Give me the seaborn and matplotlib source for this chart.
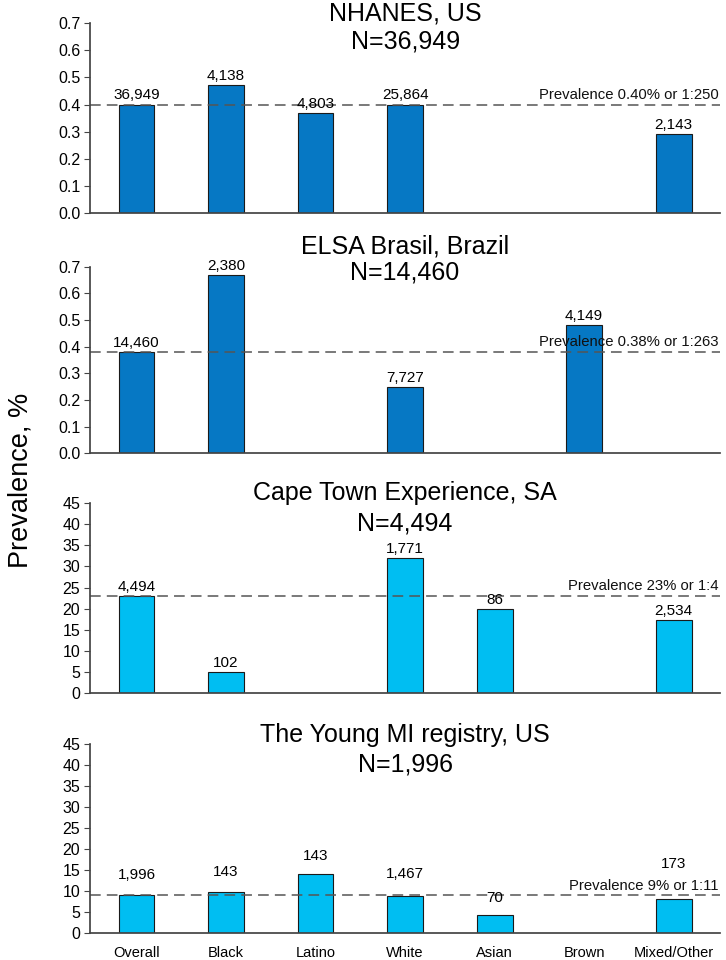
import matplotlib
matplotlib.use("Agg")
import matplotlib.pyplot as plt
import seaborn as sns
import pandas as pd
import numpy as np

# Categories shared by all panels
groups = ["Overall", "Black", "Latino", "White", "Asian", "Brown", "Mixed/Other"]

# NHANES, US
nhanes_prev = [0.40, 0.47, 0.37, 0.40, np.nan, np.nan, 0.29]
nhanes_n = ["36,949", "4,138", "4,803", "25,864", "", "", "2,143"]

# ELSA Brasil, Brazil
elsa_prev = [0.38, 0.67, np.nan, 0.25, np.nan, 0.48, np.nan]
elsa_n = ["14,460", "2,380", "", "7,727", "", "4,149", ""]

# Cape Town Experience, SA
cape_prev = [23, 5, np.nan, 32, 19.8, np.nan, 17.2]
cape_n = ["4,494", "102", "", "1,771", "86", "", "2,534"]

# The Young MI registry, US
young_prev = [9, 9.8, 14, 8.9, 4.3, np.nan, 8.1]
young_n = ["1,996", "143", "143", "1,467", "70", "", "173"]

panel_names = ["NHANES, US", "ELSA Brasil, Brazil",
               "Cape Town Experience, SA", "The Young MI registry, US"]
panel_totals = ["N=36,949", "N=14,460", "N=4,494", "N=1,996"]
overall_lines = [0.40, 0.38, 23, 9]
line_texts = ["Prevalence 0.40% or 1:250", "Prevalence 0.38% or 1:263",
              "Prevalence 23% or 1:4", "Prevalence 9% or 1:11"]

sns.set_theme(style="white")
plt.rcParams['font.family'] = ['Liberation Sans', 'DejaVu Sans']
plt.rcParams['text.color'] = 'black'
plt.rcParams['xtick.color'] = 'black'
plt.rcParams['ytick.color'] = 'black'

dark_blue = "#0678C4"
light_blue = "#00BEF2"

panels = [
    (nhanes_prev, nhanes_n, dark_blue, (0, 0.7), np.arange(0, 0.71, 0.1), "{:.1f}"),
    (elsa_prev, elsa_n, dark_blue, (0, 0.7), np.arange(0, 0.71, 0.1), "{:.1f}"),
    (cape_prev, cape_n, light_blue, (0, 45), np.arange(0, 46, 5), "{:.0f}"),
    (young_prev, young_n, light_blue, (0, 45), np.arange(0, 46, 5), "{:.0f}"),
]

# axes boxes in figure fraction: left, bottom, width, height
boxes = [
    [0.124, 0.778, 0.868, 0.198],
    [0.124, 0.528, 0.868, 0.194],
    [0.124, 0.278, 0.868, 0.198],
    [0.124, 0.028, 0.868, 0.197],
]
# title line offsets from the axes top, in points (line 1, line 2)
title_offsets = [(7.2, -13.0), (15.0, -4.3), (7.2, -14.4), (6.5, -15.0)]
# extra lift (data units) for the count labels in the last panel
young_lift = [4.9, 4.7, 4.4, 5.1, 4.0, 0, 8.3]

fig = plt.figure(figsize=(7.26, 9.6), dpi=100)

for i, (prev, counts, color, ylim, ticks, fmt) in enumerate(panels):
    ax = fig.add_axes(boxes[i])
    df = pd.DataFrame({"group": groups, "prev": prev, "n": counts})
    sns.barplot(data=df, x="group", y="prev", order=groups, color=color,
                saturation=1, width=0.4, edgecolor="#1a1a1a", linewidth=0.8,
                ax=ax)
    ax.set_ylim(*ylim)
    ax.set_xlim(-0.52, 6.52)
    ax.set_yticks(ticks)
    ax.set_yticklabels([fmt.format(t) for t in ticks], fontsize=11.5)
    ax.set_xlabel("")
    ax.set_ylabel("")
    sns.despine(ax=ax)
    ax.spines["left"].set_color("#444444")
    ax.spines["bottom"].set_color("#444444")
    ax.tick_params(axis="y", which="major", left=True, length=4, width=0.8,
                   color="#444444", pad=3)
    ax.tick_params(axis="x", bottom=False)
    if i < 3:
        ax.set_xticklabels([])
    else:
        ax.tick_params(axis="x", labelsize=10.5, pad=3)

    # overall prevalence reference line
    ax.axhline(overall_lines[i], color="#555555", linestyle=(0, (7, 4)),
               linewidth=1.1, zorder=1)
    ax.annotate(line_texts[i], xy=(0.998, overall_lines[i]),
                xycoords=("axes fraction", "data"), xytext=(0, 2),
                textcoords="offset points", ha="right", va="bottom",
                fontsize=10.7, color="#111111")

    # count labels
    for j, (v, lab) in enumerate(zip(prev, counts)):
        if np.isnan(v):
            continue
        if i == 3:
            ax.text(j, v + young_lift[j], lab, ha="center", va="center",
                    fontsize=11)
        else:
            ax.annotate(lab, xy=(j, v), xytext=(0, 1.5),
                        textcoords="offset points", ha="center",
                        va="bottom", fontsize=11)

    # two-line panel title
    for txt, dy in zip([panel_names[i], panel_totals[i]], title_offsets[i]):
        ax.annotate(txt, xy=(0.5, 1.0), xycoords="axes fraction",
                    xytext=(0, dy), textcoords="offset points",
                    ha="center", va="center", fontsize=18)

fig.text(0.028, 0.5, "Prevalence, %", rotation=90, ha="center",
         va="center", fontsize=19.5)

fig.savefig("out.png", dpi=100)
